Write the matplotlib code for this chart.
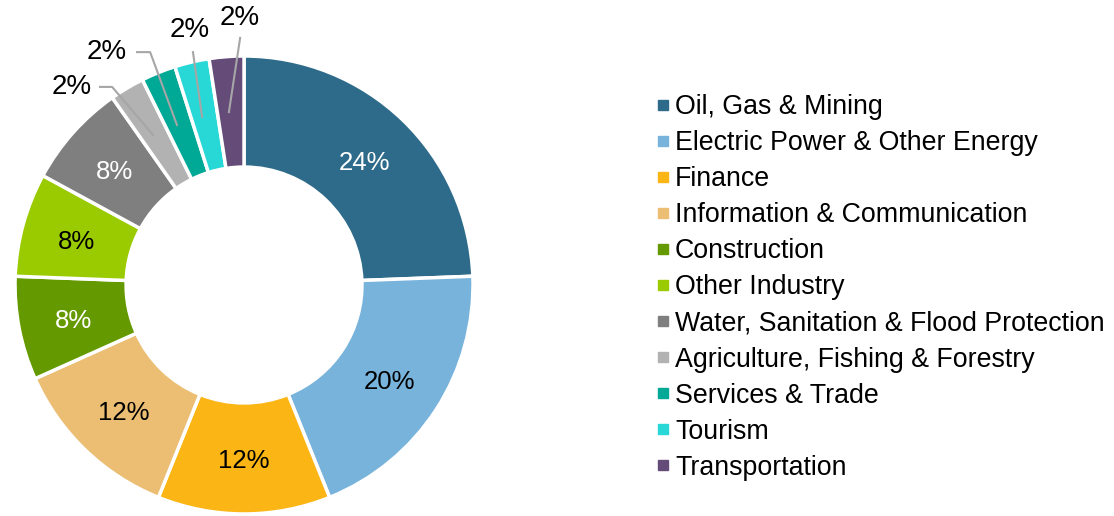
import math
import matplotlib.pyplot as plt
from matplotlib.lines import Line2D

plt.rcParams["font.family"] = ["Liberation Sans", "DejaVu Sans"]

sectors = [
    "Oil, Gas & Mining",
    "Electric Power & Other Energy",
    "Finance",
    "Information & Communication",
    "Construction",
    "Other Industry",
    "Water, Sanitation & Flood Protection",
    "Agriculture, Fishing & Forestry",
    "Services & Trade",
    "Tourism",
    "Transportation",
]
# slice sizes and the printed labels
counts = [10, 8, 5, 5, 3, 3, 3, 1, 1, 1, 1]
pct_labels = ["24%", "20%", "12%", "12%", "8%", "8%", "8%", "2%", "2%", "2%", "2%"]
colors = [
    "#2E6B8A", "#78B3DB", "#FBB615", "#EBBE74", "#649A00", "#9ACB00",
    "#7F7F7F", "#B2B2B2", "#00A896", "#27D8D6", "#644B78",
]
label_colors = ["white", "black", "black", "black", "white", "black",
                "white", None, None, None, None]

# outside labels for the small slices: text position and leader line
outside = {
    7: ((-0.751, 0.865), [(-0.629, 0.865), (-0.576, 0.865), (-0.397, 0.655)]),
    8: ((-0.598, 1.017), [(-0.467, 1.017), (-0.410, 1.017), (-0.293, 0.699)]),
    9: ((-0.236, 1.114), [(-0.223, 1.017), (-0.183, 0.734)]),
    10: ((-0.017, 1.166), [(-0.017, 1.079), (-0.066, 0.755)]),
}

fig = plt.figure(figsize=(11.14, 5.16), dpi=100)
ax = fig.add_axes([0.0135, 0.0039, 0.4111, 0.8876])

wedges, _ = ax.pie(
    counts,
    colors=colors,
    startangle=90,
    counterclock=False,
    radius=1.0,
    wedgeprops=dict(width=0.485, edgecolor="white", linewidth=2.5),
)

total = sum(counts)
texts_r = 0.757
cum = 0
for i, v in enumerate(counts):
    mid = 90 - (cum + v / 2) / total * 360
    cum += v
    if label_colors[i] is not None:
        x = texts_r * math.cos(math.radians(mid))
        y = texts_r * math.sin(math.radians(mid)) - 0.012
        ax.text(x, y, pct_labels[i], ha="center", va="center", fontsize=18.5,
                color=label_colors[i])
    else:
        (tx, ty), pts = outside[i]
        ax.text(tx, ty, pct_labels[i], ha="center", va="center", fontsize=20,
                color="black")
        xs = [p[0] for p in pts]
        ys = [p[1] for p in pts]
        ax.plot(xs, ys, color="#A6A6A6", lw=1.5, clip_on=False)

ax.set_xlim(-1, 1)
ax.set_ylim(-1, 1)
ax.set_aspect("equal")
ax.axis("off")

handles = [
    Line2D([0], [0], marker="s", linestyle="none", markersize=6.5,
           markerfacecolor=c, markeredgecolor=c)
    for c in colors
]
fig.legend(
    handles, sectors,
    loc="center left",
    bbox_to_anchor=(0.589, 0.443),
    frameon=False,
    fontsize=19.3,
    handlelength=0.5,
    handletextpad=0.2,
    labelspacing=0.375,
    borderaxespad=0,
    borderpad=0,
)

fig.savefig("out.png", dpi=100)
